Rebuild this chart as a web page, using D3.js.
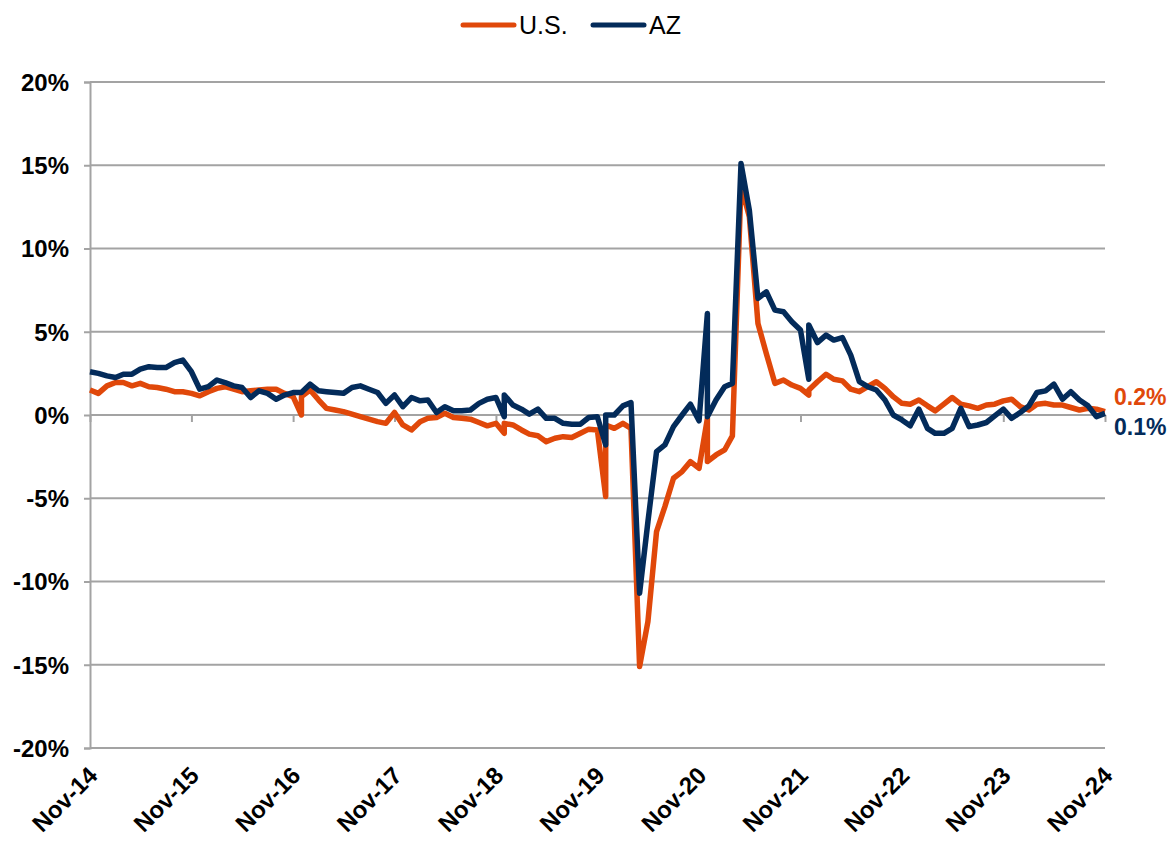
<!DOCTYPE html>
<html>
<head>
<meta charset="utf-8">
<script src="https://cdn.jsdelivr.net/npm/d3@7"></script>
<style>
  body { margin: 0; background: #fff; }
  svg { font-family: "Liberation Sans", Arial, sans-serif; }
</style>
</head>
<body>
<div id="chart"></div>
<script>
// monthly year-over-year change, Nov-14 .. Nov-24
var usValues = [
  1.5, 1.3, 1.75, 1.95, 1.95, 1.75, 1.9, 1.7, 1.65, 1.55, 1.4, 1.4,
  1.3, 1.15, 1.4, 1.6, 1.7, 1.55, 1.4, 1.45, 1.5, 1.55, 1.55, 1.3,
  1.1, 1.1, 1.5, 0.9, 0.4, 0.3, 0.2, 0.05, -0.1, -0.25, -0.4, -0.5,
  0.15, -0.6, -0.9, -0.4, -0.2, -0.15, 0.1, -0.15, -0.2, -0.25, -0.45, -0.65,
  -0.5, -0.5, -0.6, -0.9, -1.15, -1.25, -1.6, -1.4, -1.3, -1.35, -1.1, -0.85,
  -0.9, -0.6, -0.8, -0.5, -0.8, -15.1, -12.4, -7.0, -5.5, -3.8, -3.4, -2.8,
  -3.2, -2.8, -2.4, -2.1, -1.25, 13.8, 11.9, 5.5, 3.7, 1.9, 2.1, 1.8,
  1.6, 1.5, 2.0, 2.45, 2.15, 2.05, 1.55, 1.4, 1.7, 2.0, 1.6, 1.1,
  0.7, 0.65, 0.9, 0.55, 0.25, 0.65, 1.05, 0.65, 0.55, 0.4, 0.6, 0.65,
  0.85, 0.95, 0.5, 0.3, 0.65, 0.7, 0.6, 0.6, 0.45, 0.3, 0.4, 0.35,
  0.2
];
var azValues = [
  2.6, 2.5, 2.35, 2.25, 2.45, 2.45, 2.75, 2.9, 2.85, 2.85, 3.15, 3.3,
  2.6, 1.55, 1.7, 2.1, 1.95, 1.75, 1.65, 1.05, 1.45, 1.3, 0.95, 1.2,
  1.35, 1.35, 1.85, 1.45, 1.4, 1.35, 1.3, 1.65, 1.75, 1.55, 1.35, 0.7,
  1.2, 0.5, 1.05, 0.85, 0.9, 0.15, 0.5, 0.25, 0.25, 0.3, 0.7, 0.95,
  1.05, 1.2, 0.6, 0.35, 0.05, 0.35, -0.2, -0.2, -0.5, -0.55, -0.55, -0.15,
  -0.1, 0.0, 0.0, 0.55, 0.75, -10.7, -6.4, -2.2, -1.8, -0.7, 0.0, 0.65,
  -0.35, -0.1, 0.9, 1.7, 1.9, 15.1, 12.3, 7.0, 7.4, 6.3, 6.2, 5.6,
  5.1, 5.4, 4.35, 4.8, 4.5, 4.65, 3.6, 2.0, 1.7, 1.5, 0.9, 0.0,
  -0.3, -0.65, 0.35, -0.8, -1.1, -1.1, -0.8, 0.4, -0.7, -0.6, -0.45, -0.05,
  0.35, -0.2, 0.15, 0.55, 1.35, 1.45, 1.85, 0.95, 1.4, 0.9, 0.55, -0.1,
  0.1
];
// December readings published before the annual revision (drawn just before the revised value)
var revisionMonths = ["2016-12", "2018-12", "2019-12", "2020-12", "2021-12"];
var usPreRevision = [0.0, -1.1, -4.9, -0.2, 1.2];
var azPreRevision = [1.35, -0.1, -1.8, 6.1, 2.15];

var yTicks = [-20, -15, -10, -5, 0, 5, 10, 15, 20];

var parseMonth = d3.timeParse("%Y-%m");
var months = d3.timeMonth.range(parseMonth("2014-11"), parseMonth("2024-12"));

function buildSeries(values, pre) {
    var out = [];
    months.forEach(function (m, i) {
        var k = revisionMonths.indexOf(d3.timeFormat("%Y-%m")(m));
        if (k >= 0) out.push({ date: m, value: pre[k] });
        out.push({ date: m, value: values[i] });
    });
    return out;
}

var series = [
    { name: "U.S.", color: "#e0480a", data: buildSeries(usValues, usPreRevision) },
    { name: "AZ", color: "#032b5a", data: buildSeries(azValues, azPreRevision) }
];

var width = 1170, height = 842;
var margin = { top: 82, right: 65, bottom: 94, left: 90 };

var svg = d3.select("#chart")
    .append("svg")
    .attr("width", width)
    .attr("height", height);

var xScale = d3.scaleTime()
    .domain([months[0], months[months.length - 1]])
    .range([margin.left, width - margin.right]);

var yScale = d3.scaleLinear()
    .domain([-20, 20])
    .range([height - margin.bottom, margin.top]);

//gridlines
svg.append("g")
    .selectAll("line")
    .data(yTicks)
    .enter()
    .append("line")
    .attr("x1", margin.left)
    .attr("x2", width - margin.right)
    .attr("y1", function (d) { return yScale(d); })
    .attr("y2", function (d) { return yScale(d); })
    .attr("stroke", "#a3a3a3")
    .attr("stroke-width", 2);

//y-axis
var y_axis = d3.axisLeft(yScale)
    .tickValues(yTicks)
    .tickSize(6)
    .tickFormat(function (d) { return d + "%"; });
var yg = svg.append("g")
    .attr("transform", "translate(" + margin.left + ",0)")
    .call(y_axis);
yg.select(".domain").attr("stroke", "#a3a3a3").attr("stroke-width", 2);
yg.selectAll(".tick line").attr("stroke", "#a3a3a3").attr("stroke-width", 2);
yg.selectAll("text")
    .attr("x", -21)
    .attr("dy", "0.35em")
    .attr("font-size", 24)
    .attr("font-weight", "bold")
    .attr("fill", "#000");

//x-axis ticks on the zero line
var novTicks = months.filter(function (m) { return m.getMonth() === 10; });
var x_axis = d3.axisBottom(xScale)
    .tickValues(novTicks)
    .tickSize(7)
    .tickFormat("");
var xg = svg.append("g")
    .attr("transform", "translate(0," + yScale(0) + ")")
    .call(x_axis);
xg.select(".domain").remove();
xg.selectAll(".tick line").attr("stroke", "#a3a3a3").attr("stroke-width", 2);

//x labels, rotated
svg.append("g")
    .selectAll("text")
    .data(novTicks)
    .enter()
    .append("text")
    .attr("transform", function (d) {
        return "translate(" + (xScale(d) + 3) + "," + (yScale(-20) + 23) + ") rotate(-45)";
    })
    .attr("text-anchor", "end")
    .attr("dy", "0.35em")
    .attr("font-size", 24)
    .attr("font-weight", "bold")
    .text(d3.timeFormat("%b-%y"));

//lines
var line = d3.line()
    .x(function (d) { return xScale(d.date); })
    .y(function (d) { return yScale(d.value); });

svg.selectAll(".series")
    .data(series)
    .enter()
    .append("path")
    .attr("class", "series")
    .attr("d", function (d) { return line(d.data); })
    .attr("fill", "none")
    .attr("stroke", function (d) { return d.color; })
    .attr("stroke-width", 5.5)
    .attr("stroke-linejoin", "round");

//end labels
svg.append("text")
    .attr("x", xScale(months[months.length - 1]) + 9)
    .attr("y", yScale(0) - 18)
    .attr("dy", "0.35em")
    .attr("font-size", 23)
    .attr("font-weight", "bold")
    .attr("fill", series[0].color)
    .text(d3.format(".1f")(usValues[usValues.length - 1]) + "%");

svg.append("text")
    .attr("x", xScale(months[months.length - 1]) + 9)
    .attr("y", yScale(0) + 12)
    .attr("dy", "0.35em")
    .attr("font-size", 23)
    .attr("font-weight", "bold")
    .attr("fill", series[1].color)
    .text(d3.format(".1f")(azValues[azValues.length - 1]) + "%");

//legend
var legendX = [461, 591];
var legend = svg.selectAll(".legend")
    .data(series)
    .enter()
    .append("g")
    .attr("transform", function (d, i) { return "translate(" + legendX[i] + ",25)"; });
legend.append("line")
    .attr("x1", 2)
    .attr("x2", 53)
    .attr("stroke", function (d) { return d.color; })
    .attr("stroke-width", 5)
    .attr("stroke-linecap", "round");
legend.append("text")
    .attr("x", 58)
    .attr("dy", "0.35em")
    .attr("font-size", 25)
    .text(function (d) { return d.name; });
</script>
</body>
</html>
